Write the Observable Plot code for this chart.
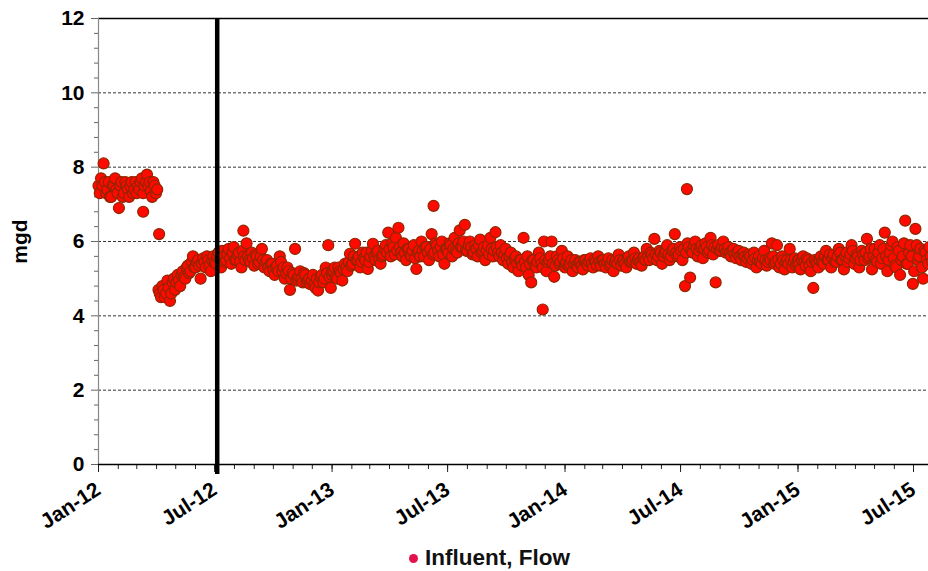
<!DOCTYPE html>
<html><head><meta charset="utf-8">
<script src="https://cdn.jsdelivr.net/npm/d3@7"></script>
<script src="https://cdn.jsdelivr.net/npm/@observablehq/plot@0.6"></script>
<style>
html,body{margin:0;padding:0;background:#fff;overflow:hidden;}
#chart{width:928px;}
.legend{position:relative;height:26px;font-family:"Liberation Sans",Arial,sans-serif;font-size:22.5px;font-weight:bold;color:#111;}
.legend .sw{position:absolute;left:409px;top:9px;width:9px;height:9px;border-radius:50%;background:#e3124b;}
.legend .lab{position:absolute;left:425px;top:0;line-height:26px;}
</style></head><body>
<div id="chart"></div>
<div class="legend"><span class="sw"></span><span class="lab">Influent, Flow</span></div>
<script>
// Readings sampled every 4 days from Jan 1 of each year (mgd)
const stepDays = 4;
const flow2012 = [7.5, 7.7, 8.1, 7.3, 7.6, 7.2, 7.5, 7.4, 6.9, 7.6, 7.3, 7.5, 7.2, 7.6, 7.4, 7.3,
  7.4, 7.7, 7.5, 7.8, 7.6, 7.2, 7.5, 7.4,
  4.6, 4.8, 4.5, 4.95, 4.4, 4.9, 4.7, 5.1, 4.8, 5.2, 5.0, 5.35, 5.2, 5.6, 5.3, 5.5, 5.0, 5.55, 5.3, 5.5, 5.2, 5.6,
  5.4, 5.7, 5.3, 5.6, 5.5, 5.8, 5.4, 5.85, 5.5, 5.7, 5.3, 5.6, 5.95, 5.5, 5.7, 5.35, 5.6, 5.45, 5.8, 5.3,
  5.5, 5.2, 5.4, 5.1, 5.35, 5.6, 5.2, 5.0, 5.3, 4.7, 5.15, 5.8, 5.0, 5.2, 4.9, 5.1, 4.95, 4.85, 5.1, 4.75,
  4.68, 5.05, 4.9, 5.3, 5.9, 4.75];
const flow2013 = [5.1, 5.3, 5.0, 5.2, 4.95, 5.4, 5.2, 5.67, 5.4, 5.94, 5.5, 5.3, 5.7, 5.5, 5.26, 5.6,
  5.94, 5.5, 5.75, 5.4, 5.65, 5.9, 6.24, 5.6, 5.85, 6.1, 6.37, 5.7, 5.95, 5.5, 5.8, 5.6, 5.9, 5.26,
  5.75, 6.0, 5.6, 5.85, 5.5, 6.2, 5.7, 5.9, 5.6, 6.0, 5.4, 5.8, 5.95, 5.6, 6.1, 5.7, 6.3, 5.85, 6.45,
  5.75, 6.0, 5.65, 5.9, 5.6, 6.05, 5.75, 5.5, 5.9, 6.1, 5.6, 6.25, 5.7, 5.9, 5.5, 5.8, 5.4, 5.7, 5.3,
  5.6, 5.2, 5.5, 6.1, 5.3, 5.1, 4.9, 5.5, 5.3, 5.7, 5.4, 6.0, 5.2, 5.5, 6.0, 5.05, 5.6, 5.4, 5.75, 5.35];
const flow2014 = [5.3, 5.6, 5.4, 5.2, 5.5, 5.3, 5.45, 5.25, 5.5, 5.35, 5.55, 5.3, 5.45, 5.6, 5.35, 5.5,
  5.3, 5.55, 5.4, 5.2, 5.5, 5.65, 5.35, 5.5, 5.3, 5.6, 5.45, 5.7, 5.4, 5.55, 5.35, 5.6, 5.8, 5.5, 5.65,
  6.07, 5.5, 5.75, 5.4, 5.7, 5.9, 5.5, 5.75, 6.2, 5.6, 5.85, 5.5, 4.8, 5.95, 5.03, 5.7, 6.0, 5.6, 5.85,
  5.55, 5.95, 5.7, 6.1, 5.65, 4.9, 5.9, 5.75, 6.0, 5.7, 5.85, 5.6, 5.8, 5.55, 5.75, 5.5, 5.7, 5.45, 5.65,
  5.4, 5.7, 5.3, 5.6, 5.4, 5.75, 5.35, 5.55, 5.95, 5.4, 5.9, 5.3, 5.6, 5.25, 5.5, 5.8, 5.3, 5.55, 5.4];
const flow2015 = [5.5, 5.25, 5.6, 5.35, 5.5, 5.2, 4.75, 5.45, 5.3, 5.6, 5.4, 5.75, 5.5, 5.3, 5.65, 5.45,
  5.8, 5.5, 5.25, 5.7, 5.55, 5.9, 5.4, 5.65, 5.3, 5.75, 5.5, 6.07, 5.6, 5.25, 5.8, 5.45, 5.9, 5.55, 6.24,
  5.2, 5.7, 6.0, 5.35, 5.85, 5.1, 5.6, 6.56, 5.4, 5.9, 4.86, 6.34, 5.5, 5.8, 5.0, 5.7, 5.4, 5.6];
// Readings in between (2 days after each of the above)
const flow2012b = [7.3, 7.5, 7.6, 7.4, 7.2, 7.5, 7.7, 7.3, 7.5, 7.2, 7.6, 7.4, 7.5, 7.3, 7.6, 7.5,
  7.6, 7.3, 7.6, 7.5, 7.35, 7.6, 7.3, 4.7,
  4.5, 4.7, 4.6, 4.75, 4.6, 5.0, 4.9, 4.95, 5.1, 5.05, 5.3, 5.15, 5.45, 5.3, 5.45, 5.35, 5.4, 5.45, 5.6, 5.35, 5.5, 5.45,
  5.6, 5.5, 5.75, 5.45, 5.65, 5.55, 5.7, 5.5, 5.65, 5.45, 5.75, 5.5,
  5.6, 5.45, 5.55, 5.65, 5.4, 5.6, 5.5, 5.45, 5.3,
  5.4, 5.25, 5.3, 5.2, 5.45, 5.3, 5.15, 5.2,
  5.0, 5.1, 4.95, 5.05, 5.0, 5.15, 4.9, 5.0, 4.95, 4.85, 5.0, 4.9, 5.1, 5.0, 5.15, 5.05, 5.2];
const flow2013b = [5.2, 5.05, 5.3, 5.15, 5.25, 5.3, 5.45, 5.35, 5.6, 5.5,
  5.6, 5.45, 5.55, 5.7, 5.45, 5.75, 5.6, 5.7, 5.5, 5.6, 5.8,
  5.7, 5.8, 5.95, 5.65, 5.75, 5.85, 5.6, 5.7, 5.8, 5.65, 5.75, 5.55, 5.7,
  5.6, 5.75, 5.85, 5.7, 5.8, 5.65, 5.95, 5.75, 5.85, 5.65, 5.8, 5.7, 5.9, 5.8, 5.75, 5.95, 5.85,
  6.0, 5.75, 5.9, 5.85, 5.7, 5.8, 5.9, 5.7, 5.85, 5.75, 5.65, 5.8,
  5.75, 5.85, 5.6, 5.7, 5.65, 5.55, 5.6, 5.45, 5.55, 5.4, 5.5, 5.35,
  5.45, 5.6, 5.4, 5.5, 5.35, 5.45, 5.55, 5.3, 5.5, 5.45, 5.6, 5.4, 5.35, 5.5, 5.45, 5.55, 5.4];
const flow2014b = [5.45, 5.35, 5.5, 5.4, 5.35, 5.45, 5.35, 5.5, 5.4, 5.45, 5.4, 5.5, 5.35, 5.45, 5.5, 5.4,
  5.45, 5.35, 5.5, 5.45, 5.4, 5.5, 5.45, 5.4, 5.55, 5.45, 5.5, 5.55, 5.5, 5.45, 5.55,
  5.5, 5.6, 5.7, 5.55, 5.65, 5.6, 5.7, 5.6, 5.75, 5.65, 5.6, 5.8, 5.7, 5.65, 5.75, 5.8,
  5.7, 5.85, 5.75, 5.9, 5.8, 5.75, 5.9, 5.8, 5.85, 5.75, 5.9, 5.85, 5.8, 5.75, 5.85, 5.8,
  5.75, 5.7, 5.75, 5.65, 5.7, 5.6, 5.65, 5.6, 5.55, 5.6, 5.5, 5.55, 5.5, 5.45, 5.55, 5.5,
  5.45, 5.5, 5.6, 5.45, 5.5, 5.4, 5.5, 5.45, 5.4, 5.5, 5.45, 5.35, 5.5];
const flow2015b = [5.4, 5.5, 5.45, 5.55, 5.35, 5.45, 5.5, 5.4, 5.5, 5.45, 5.6,
  5.5, 5.65, 5.55, 5.45, 5.6, 5.7, 5.5, 5.6, 5.45, 5.65, 5.75, 5.55, 5.6, 5.5, 5.65, 5.7, 5.55, 5.8, 5.6, 5.5,
  5.7, 5.4, 5.8, 5.6, 5.5, 5.9, 5.55, 5.3, 5.75, 5.5, 5.95, 5.4, 5.7, 5.6, 5.2, 5.9, 5.6, 5.3, 5.75, 5.5, 5.85, 5.45];
const flowYears = [2012, 2013, 2014, 2015];
// Isolated readings
const outlierDates = ["2012-03-11", "2012-04-05", "2012-08-15", "2013-06-09", "2013-11-27", "2014-07-11"];
const outlierValues = [6.8, 6.2, 6.29, 6.96, 4.17, 7.41];
// Axis ticks
const yMajorTicks = [0, 2, 4, 6, 8, 10, 12];
const yMinorTicks = [0.4, 0.8, 1.2, 1.6, 2.4, 2.8, 3.2, 3.6, 4.4, 4.8, 5.2, 5.6, 6.4, 6.8, 7.2, 7.6, 8.4, 8.8, 9.2, 9.6, 10.4, 10.8, 11.2, 11.6];
const gridValues = [2, 4, 6, 8, 10];
const xMajorDates = ["2012-01-01", "2012-07-01", "2013-01-01", "2013-07-01", "2014-01-01", "2014-07-01", "2015-01-01", "2015-07-01"];
const xMajorLabels = ["Jan-12", "Jul-12", "Jan-13", "Jul-13", "Jan-14", "Jul-14", "Jan-15", "Jul-15"];
const markerDate = "2012-07-05";

const toDate = s => new Date(s + "T00:00:00Z");
const data = [];
[flow2012, flow2013, flow2014, flow2015].forEach((arr, k) =>
  arr.forEach((v, i) => data.push({date: new Date(Date.UTC(flowYears[k], 0, 1 + stepDays * i)), value: v})));
[flow2012b, flow2013b, flow2014b, flow2015b].forEach((arr, k) =>
  arr.forEach((v, i) => data.push({date: new Date(Date.UTC(flowYears[k], 0, 3 + stepDays * i)), value: v})));
outlierDates.forEach((d, i) => data.push({date: toDate(d), value: outlierValues[i]}));
data.sort((a, b) => a.date - b.date);

const majorDates = xMajorDates.map(toDate);
const labelMap = new Map(majorDates.map((d, i) => [+d, xMajorLabels[i]]));
const xStart = toDate("2012-01-01"), xEnd = new Date(Date.UTC(2015, 6, 24, 12));
const minorX = d3.utcMonth.range(xStart, xEnd);

const H = 545;
const chart = Plot.plot({
  width: 928, height: H,
  marginLeft: 98, marginRight: 0, marginTop: 18, marginBottom: H - 464,
  style: {fontFamily: "'Liberation Sans', Arial, sans-serif", color: "#000", background: "#fff"},
  x: {type: "utc", domain: [xStart, xEnd]},
  y: {domain: [0, 12]},
  marks: [
    Plot.ruleY(gridValues, {stroke: "#333", strokeDasharray: "3,2", strokeWidth: 1}),
    Plot.ruleY([12], {stroke: "#000", strokeWidth: 1.3}),
    Plot.ruleX([xStart], {stroke: "#888", strokeWidth: 1.2}),
    Plot.axisY({ticks: yMinorTicks, tickSize: 4, tickFormat: () => "", stroke: "#666", label: null}),
    Plot.axisY({ticks: yMajorTicks, tickSize: 7, tickPadding: 7, stroke: "#666", fontSize: 21, fontWeight: "bold",
      label: "mgd", labelAnchor: "center", labelArrow: "none", labelOffset: 86}),
    Plot.axisX({ticks: minorX, tickSize: 5, tickFormat: () => "", stroke: "#222", label: null}),
    Plot.axisX({ticks: majorDates, tickSize: 8, tickFormat: d => labelMap.get(+d), tickRotate: -33, tickPadding: 15,
      fontSize: 21, fontWeight: "bold", stroke: "#222", label: null}),
    Plot.ruleY([0], {stroke: "#000", strokeWidth: 1.5}),
    Plot.dot(data, {x: "date", y: "value", r: 5.5, fill: "#ff0a00", stroke: "#8e2600", strokeWidth: 1.2}),
    Plot.ruleX([toDate(markerDate)], {stroke: "#000", strokeWidth: 4.5, insetBottom: -10})
  ]
});
document.getElementById("chart").append(chart);
</script>
</body></html>
